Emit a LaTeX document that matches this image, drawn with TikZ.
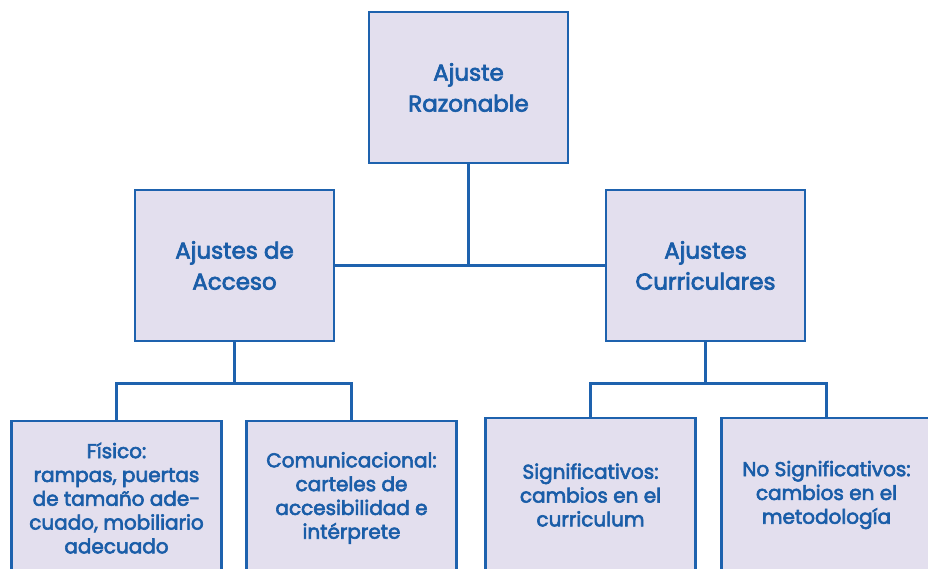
\documentclass[tikz,border=0pt]{standalone}
\usepackage{fontspec}
\setmainfont{Poppins}[UprightFeatures={FakeBold=3}]
\usetikzlibrary{calc}
\definecolor{boxfill}{HTML}{E3DFEE}
\definecolor{boxline}{HTML}{1E62AE}
\definecolor{boxtext}{HTML}{1A5DA8}
\begin{document}
\begin{tikzpicture}[x=1pt,y=-1pt,
  bigbox/.style={draw=boxline, fill=boxfill, line width=2.6pt, minimum width=199pt, minimum height=151pt, text=boxtext, align=center, font=\fontsize{23}{31}\selectfont, inner sep=0pt},
  smallbox/.style={draw=boxline, fill=boxfill, line width=2.6pt, minimum width=210pt, minimum height=154pt, text=boxtext, align=center, font=\fontsize{20}{23.8}\selectfont, inner sep=0pt},
  conn/.style={draw=boxline, line width=2.6pt}]
\useasboundingbox (0,0) rectangle (928,569);
\clip (0,0) rectangle (928,569);
\fill[white] (0,0) rectangle (928,569);
\node[bigbox] (top) at (468.5,87.5) {Ajuste\\Razonable};
\node[bigbox] (acc) at (234.5,265.5) {Ajustes de\\Acceso};
\node[bigbox] (cur) at (705.5,265.5) {Ajustes\\Curriculares};
\node[smallbox] (fis) at (116.5,498) {Físico:\\rampas, puertas\\de tamaño ade-\\cuado, mobiliario\\adecuado};
\node[smallbox] (com) at (351.5,498) {Comunicacional:\\carteles de\\accesibilidad e\\intérprete};
\node[smallbox] (sig) at (590.5,495) {Significativos:\\cambios en el\\curriculum};
\node[smallbox] (nos) at (826.5,495) {No Significativos:\\cambios en el\\metodología};
\coordinate (ja) at ($(acc.south)+(0,41)$);
\coordinate (jc) at ($(cur.south)+(0,41)$);
\draw[conn] (top.south) -- (top.south |- acc.east);
\draw[conn] (acc.east) -- (cur.west);
\draw[conn] (acc.south) -- (ja);
\draw[conn] (fis.north) |- (ja) -| (com.north);
\draw[conn] (cur.south) -- (jc);
\draw[conn] (sig.north) |- (jc) -| (nos.north);
\end{tikzpicture}
\end{document}
